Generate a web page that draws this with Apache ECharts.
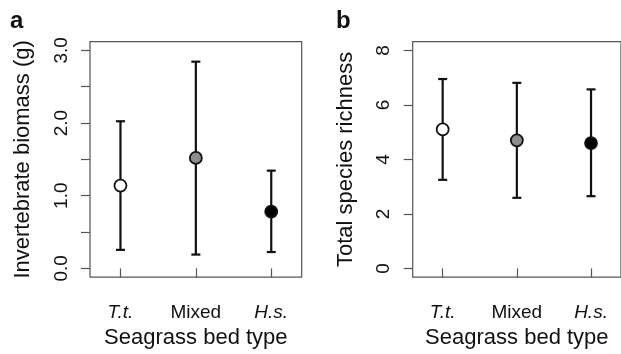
<!DOCTYPE html>
<html>
<head>
<meta charset="utf-8">
<script src="https://cdn.jsdelivr.net/npm/echarts@6/dist/echarts.min.js"></script>
<style>
  html, body { margin: 0; padding: 0; background: #fff; }
  #chart { width: 621px; height: 354px; }
</style>
</head>
<body>
<div id="chart"></div>
<script>
// categories (italic ones are species abbreviations)
var categories = ['T.t.', 'Mixed', 'H.s.'];
var italicCats = [true, false, true];
var catPos = [1, 2, 3];
var pointFill = ['#ffffff', '#8c8c8c', '#000000'];

// panel a - invertebrate biomass (g)
var biomassMean = [1.14, 1.52, 0.78];
var biomassLow = [0.255, 0.19, 0.225];
var biomassHigh = [2.025, 2.845, 1.345];
var biomassTicks = [0, 0.5, 1, 1.5, 2, 2.5, 3];
var biomassLabels = [0, 1, 2, 3];

// panel b - total species richness
var richMean = [5.1, 4.7, 4.6];
var richLow = [3.25, 2.59, 2.65];
var richHigh = [6.95, 6.81, 6.57];
var richTicks = [0, 2, 4, 6, 8];

var FONT = 'Liberation Sans';
var chart = echarts.init(document.getElementById('chart'));

function errBar(params, api) {
    var x = api.value(0);
    var top = api.coord([x, api.value(2)]);
    var bot = api.coord([x, api.value(1)]);
    var w = 4.5;
    var st = { stroke: '#111', lineWidth: 2.2 };
    return {
        type: 'group',
        children: [
            { type: 'line', shape: { x1: top[0], y1: top[1], x2: bot[0], y2: bot[1] }, style: st },
            { type: 'line', shape: { x1: top[0] - w, y1: top[1], x2: top[0] + w, y2: top[1] }, style: st },
            { type: 'line', shape: { x1: bot[0] - w, y1: bot[1], x2: bot[0] + w, y2: bot[1] }, style: st }
        ]
    };
}

function xAxisFor(idx) {
    return {
        type: 'value', gridIndex: idx, min: 0.596, max: 3.404,
        name: 'Seagrass bed type', nameLocation: 'middle', nameGap: 48,
        nameTextStyle: { fontFamily: FONT, fontSize: 22, color: '#111' },
        splitLine: { show: false },
        axisLine: { show: false },
        axisTick: { customValues: catPos, length: 9, lineStyle: { color: '#555', width: 1.2 } },
        axisLabel: {
            customValues: catPos, margin: 26, fontFamily: FONT, fontSize: 19, color: '#111',
            formatter: function (v) {
                var i = Math.round(v) - 1;
                return italicCats[i] ? '{it|' + categories[i] + '}' : categories[i];
            },
            rich: { it: { fontStyle: 'italic', fontFamily: FONT, fontSize: 19, color: '#111' } }
        }
    };
}

function yAxisFor(idx, name, min, max, ticks, labels, fmt) {
    return {
        type: 'value', gridIndex: idx, min: min, max: max,
        name: name, nameLocation: 'middle', nameGap: 56, nameRotate: 90,
        nameTextStyle: { fontFamily: FONT, fontSize: 22, color: '#111' },
        splitLine: { show: false },
        axisLine: { show: false },
        axisTick: { customValues: ticks, length: 9, lineStyle: { color: '#555', width: 1.2 } },
        axisLabel: {
            customValues: labels, rotate: 90, margin: 19,
            fontFamily: FONT, fontSize: 19, color: '#111',
            formatter: fmt
        }
    };
}

function pts(mean) {
    return mean.map(function (m, i) {
        return { value: [catPos[i], m], itemStyle: { color: pointFill[i] } };
    });
}
function bars(low, high) {
    return low.map(function (l, i) { return [catPos[i], l, high[i]]; });
}

var option = {
    animation: false,
    grid: [
        { left: 90, top: 41.7, width: 211.7, height: 241, show: true, borderColor: '#555', borderWidth: 1.2 },
        { left: 412.7, top: 41.7, width: 211.7, height: 241, show: true, borderColor: '#555', borderWidth: 1.2 }
    ],
    xAxis: [xAxisFor(0), xAxisFor(1)],
    yAxis: [
        yAxisFor(0, 'Invertebrate biomass (g)', -0.12, 3.12, biomassTicks, biomassLabels,
            function (v) { return v.toFixed(1); }),
        yAxisFor(1, 'Total species richness', -0.32, 8.32, richTicks, richTicks,
            function (v) { return String(v); })
    ],
    graphic: [
        { type: 'text', left: 10, top: 9, style: { text: 'a', fontFamily: FONT, fontWeight: 'bold', fontSize: 24, fill: '#111' } },
        { type: 'text', left: 336, top: 9, style: { text: 'b', fontFamily: FONT, fontWeight: 'bold', fontSize: 24, fill: '#111' } }
    ],
    series: [
        { type: 'custom', xAxisIndex: 0, yAxisIndex: 0, renderItem: errBar, data: bars(biomassLow, biomassHigh), z: 2 },
        { type: 'scatter', xAxisIndex: 0, yAxisIndex: 0, symbolSize: 12, data: pts(biomassMean), z: 3,
          itemStyle: { borderColor: '#111', borderWidth: 1.8, opacity: 1 } },
        { type: 'custom', xAxisIndex: 1, yAxisIndex: 1, renderItem: errBar, data: bars(richLow, richHigh), z: 2 },
        { type: 'scatter', xAxisIndex: 1, yAxisIndex: 1, symbolSize: 12, data: pts(richMean), z: 3,
          itemStyle: { borderColor: '#111', borderWidth: 1.8, opacity: 1 } }
    ]
};

chart.setOption(option);
</script>
</body>
</html>
